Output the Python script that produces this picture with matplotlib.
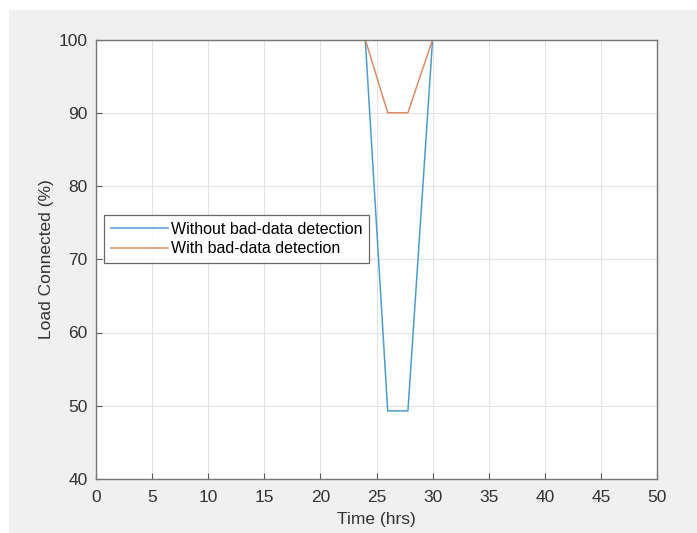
import matplotlib.pyplot as plt
from matplotlib.patches import Rectangle

# data
time_hrs = [0, 24, 26, 27.8, 30, 47]
load_without = [100, 100, 49.3, 49.3, 100, 100]
load_with = [100, 100, 90, 90, 100, 100]
labels = ['Without bad-data detection', 'With bad-data detection']

plt.rcParams['font.family'] = ['Liberation Sans', 'DejaVu Sans']

fig = plt.figure(figsize=(6.97, 5.33), dpi=100, facecolor='white')
# grey matlab-style window background
fig.patches.append(Rectangle((9 / 697, 0), 1, 1 - 10 / 533, transform=fig.transFigure,
                             facecolor='#f0f0f0', edgecolor='none', zorder=-10))

ax = fig.add_axes([96 / 697, 54 / 533, 561 / 697, 439.5 / 533])
ax.plot(time_hrs, load_without, color='#4f9ccb', linewidth=1.1, label=labels[0])
ax.plot(time_hrs, load_with, color='#dc8d66', linewidth=1.1, label=labels[1])

ax.set_xlim(0, 50)
ax.set_ylim(40, 100)
ax.set_xticks(range(0, 51, 5))
ax.set_yticks(range(40, 101, 10))
ax.grid(True, color='#e3e3e3', linewidth=0.8)
ax.set_axisbelow(True)
ax.tick_params(direction='in', length=4, color='#555555', labelcolor='#333333', labelsize=12.5)
ax.tick_params(axis='x', pad=8)
ax.tick_params(axis='y', pad=6)
for s in ax.spines.values():
    s.set_color('#777777')
    s.set_linewidth(1)

ax.set_xlabel('Time (hrs)', fontsize=12.5, color='#333333', labelpad=5)
ax.set_ylabel('Load Connected (%)', fontsize=12.5, color='#333333', labelpad=3)

leg = ax.legend(loc='upper left', bbox_to_anchor=(0.014, 0.6), fontsize=11.5,
                frameon=True, fancybox=False, handlelength=3.6, handletextpad=0.2,
                borderpad=0.42, labelspacing=0.28, borderaxespad=0)
leg.get_frame().set_edgecolor('#444444')
leg.get_frame().set_linewidth(0.9)

fig.savefig('out.png', dpi=100, facecolor=fig.get_facecolor())
